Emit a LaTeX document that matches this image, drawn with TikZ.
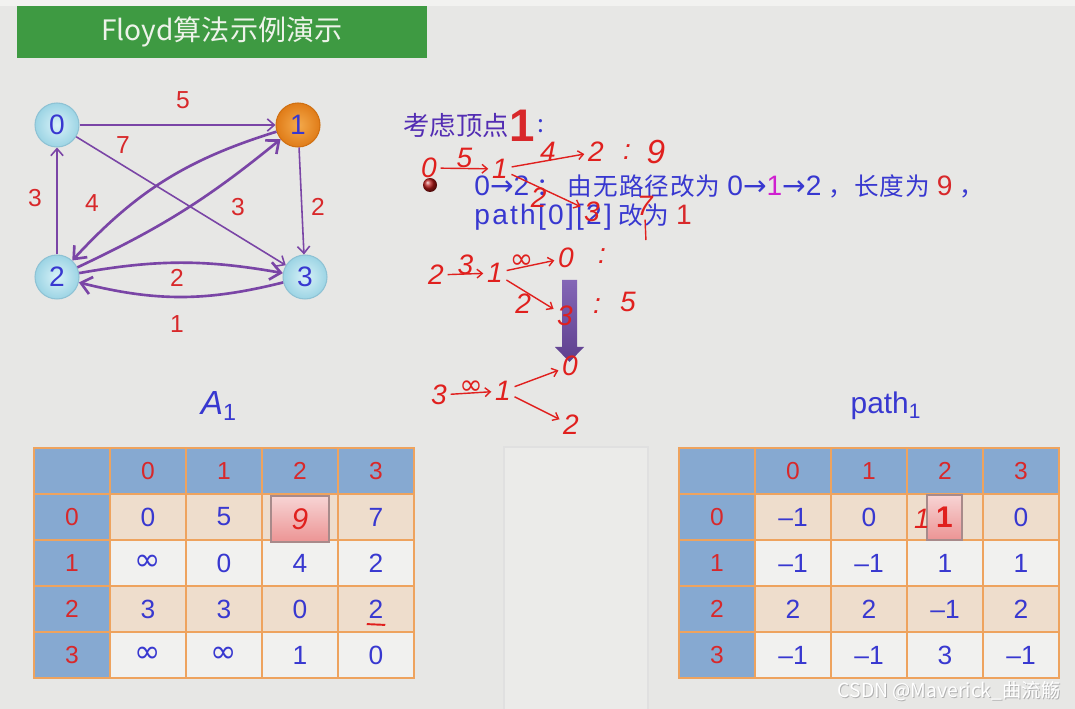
\documentclass[tikz,border=0pt]{standalone}
\usepackage{fontspec}
\setmainfont{Liberation Sans}
\newfontfamily\cjk{Noto Sans CJK SC}
\newfontfamily\cjkw{Noto Sans CJK SC}[LetterSpace=4]
\newfontfamily\latw{Liberation Sans}[LetterSpace=8]
\newfontfamily\symw{DejaVu Sans}[LetterSpace=8]
\newfontfamily\sym{DejaVu Sans}
\usetikzlibrary{arrows.meta}

\definecolor{bg}{HTML}{E7E7E5}
\definecolor{topstrip}{HTML}{F2F2F0}
\definecolor{titlegreen}{HTML}{3E9A42}
\definecolor{titletext}{HTML}{EEF3EA}
\definecolor{vtxin}{HTML}{D8F2F8}
\definecolor{vtxout}{HTML}{9CD4E4}
\definecolor{vtxline}{HTML}{8EC2D4}
\definecolor{orgin}{HTML}{F4AA4C}
\definecolor{orgout}{HTML}{E07C18}
\definecolor{orgline}{HTML}{D07012}
\definecolor{arcpurple}{HTML}{7A45A6}
\definecolor{numred}{HTML}{D8282A}
\definecolor{numblue}{HTML}{3838D0}
\definecolor{hdblue}{HTML}{86A9D1}
\definecolor{peach}{HTML}{EEDDCC}
\definecolor{lightcell}{HTML}{F1F1EF}
\definecolor{gridorange}{HTML}{EEA35E}
\definecolor{ink}{HTML}{E0201E}
\definecolor{blocktop}{HTML}{8466B6}
\definecolor{blockbot}{HTML}{5E3F8E}
\definecolor{pinktop}{HTML}{F7D4D4}
\definecolor{pinkbot}{HTML}{EC9494}
\definecolor{pinkline}{HTML}{A88A8A}
\definecolor{panel}{HTML}{EBEBE9}
\definecolor{hint}{HTML}{D020D0}

\newcommand{\infy}{{\sym ∞}}
\newcommand{\biginfy}{\raisebox{-2pt}{\sym\fontsize{18}{18}\selectfont ∞}}
\newcommand{\lat}[1]{\hspace{4pt}{\latw\fontsize{16}{16}\selectfont #1}\hspace{4pt}}
\newcommand{\rarr}{{\symw →}}

\begin{document}
\begin{tikzpicture}[x=0.02cm, y=-0.02cm,
  vtx/.style={circle, minimum size=0.88cm, inner sep=0pt, draw=vtxline, line width=0.6pt,
    inner color=vtxin, outer color=vtxout, text=numblue, font=\fontsize{16}{16}\selectfont},
  arc/.style={draw=arcpurple, line width=0.9pt, -{Straight Barb[length=4pt,width=7pt]}},
  thickarc/.style={arc, line width=1.5pt, -{Straight Barb[length=6pt,width=10pt]}},
  wt/.style={text=numred, font=\fontsize{14}{14}\selectfont},
  cell/.style={rectangle, draw=gridorange, line width=0.8pt, minimum width=1.52cm,
    minimum height=0.92cm, inner sep=0pt, text=numblue, font=\fontsize{15}{15}\selectfont},
  hd/.style={cell, fill=hdblue, text=numred, font=\fontsize{14}{14}\selectfont},
  hand/.style={text=ink, font=\fontsize{16}{16}\selectfont\itshape, inner sep=1pt},
  ink/.style={draw=ink, line width=0.8pt, -{Straight Barb[length=3pt,width=5pt]},
    shorten <=1pt, shorten >=1pt}
]
\useasboundingbox (0,0) rectangle (1075,709);
\fill[bg] (0,0) rectangle (1075,709);
\fill[topstrip] (0,0) rectangle (1075,6);

% title bar
\fill[titlegreen] (17,6) rectangle (427,58);
\node[text=titletext, font=\cjk\fontsize{16}{16}\selectfont] (title) at (222,32) {Floyd算法示例演示};

% graph
\node[vtx] (v0) at (57,125) {0};
\node[vtx, draw=orgline, inner color=orgin, outer color=orgout] (v1) at (298,125) {1};
\node[vtx] (v2) at (57,277) {2};
\node[vtx] (v3) at (305,277) {3};

\draw[arc] (v0) -- (v1);
\draw[arc] (v0) -- (v3);
\draw[arc] (v2) -- (v0);
\draw[arc] (v1) -- (v3);
\draw[thickarc] (v1) to[bend right=15] (v2);
\draw[thickarc] (v2) to[bend right=7] (v1);
\draw[thickarc] (v2) to[bend left=10] (v3);
\draw[thickarc] (v3) to[bend left=14] (v2);

\node[wt] (w01) at (183,100) {5};
\node[wt] (w03) at (123,145) {7};
\node[wt] (w20) at (35,198) {3};
\node[wt] (w12) at (92,203) {4};
\node[wt] (w21) at (238,207) {3};
\node[wt] (w13) at (318,207) {2};
\node[wt] (w23) at (177,278) {2};
\node[wt] (w32) at (177,324) {1};

% step text
\node[anchor=west, inner sep=0pt, text=numblue!80!purple, font=\cjk\fontsize{15}{15}\selectfont] (step) at (403,126) {考虑顶点};
\node[anchor=west, inner sep=0pt, text=numred, font=\fontsize{26}{26}\selectfont\bfseries] (stepk) at (step.east) {1};
\node[anchor=west, inner sep=1pt, text=numblue, font=\cjk\fontsize{14}{14}\selectfont] (stepc) at (stepk.east) {:};
\shade[ball color=ink!80!black] (430,185) circle (7);
\node[anchor=west, inner sep=0pt, text=numblue, font=\cjkw\fontsize{14}{14}\selectfont] (line1) at (467,186)
  {\lat{0\rarr 2}：\hspace{4pt}由无路径改为\lat{0\rarr{\color{hint}1}\rarr 2}，长度为\lat{\color{numred}9}，};
\node[anchor=west, inner sep=0pt, text=numblue, font=\cjkw\fontsize{14}{14}\selectfont] (line2) at (467,217)
  {\lat{path[0][2]}改为\lat{\color{numred}1}};

% big arrow
\shade[top color=blocktop, bottom color=blockbot] (562,280) -- (577,280) -- (577,347) -- (584,347)
  -- (569.5,362) -- (555,347) -- (562,347) -- cycle;

% handwritten notes
\node[hand] (p0) at (429,168) {0};
\node[hand] (p1) at (500,169) {1};
\node[hand] (p2) at (596,152) {2};
\node[hand] (p3) at (592,212) {3};
\draw[ink] (p0) -- node[hand, above=-1pt] (p01) {5} (p1);
\draw[ink] (p1) -- node[hand, above=-2pt] (p12) {4} (p2);
\draw[ink] (p1) -- node[hand, pos=0.4, below=-1pt] (p13) {2} (p3);
\node[hand] (p2c) at (627,152) {:};
\node[hand, font=\fontsize{19}{19}\selectfont\itshape] (p2d) at (656,152) {9};
\node[hand] (p3d) at (645,206) {7};
\draw[ink, -] (p3d.south) -- ++(1,24);

\node[hand] (q2) at (436,275) {2};
\node[hand] (q1) at (495,273) {1};
\node[hand] (q0) at (566,258) {0};
\node[hand] (q3) at (565,316) {3};
\draw[ink] (q2) -- node[hand, above=-2pt] (q21) {3} (q1);
\draw[ink] (q1) -- node[hand, above left=-3pt] (q10) {\infy} (q0);
\draw[ink] (q1) -- node[hand, below left=-2pt] (q13) {2} (q3);
\node[hand] (q0c) at (602,256) {:};
\node[hand] (q3c) at (597,306) {:};
\node[hand] (q3d) at (628,302) {5};

\node[hand] (r3) at (439,395) {3};
\node[hand] (r1) at (503,391) {1};
\node[hand] (r0) at (570,366) {0};
\node[hand] (r2) at (571,425) {2};
\draw[ink] (r3) -- node[hand, above=-2pt] (r31) {\infy} (r1);
\draw[ink] (r1) -- (r0);
\draw[ink] (r1) -- (r2);

% blank panel
\fill[black!12] (503,446) rectangle (649,709);
\fill[panel] (505,448) rectangle (647,709);

% table A1
\node[text=numblue, font=\fontsize{19}{19}\selectfont] (alabel) at (219,406) {\itshape A\textsubscript{\upshape 1}};
\node[hd] (acorner) at (72,471) {};
\foreach \c in {0,...,3}
  \node[hd] (ac\c) at (148+76*\c,471) {\c};
\foreach \r/\vals/\bg in {0/{0,5,,7}/peach, 1/{\biginfy,0,4,2}/lightcell,
    2/{3,3,0,2}/peach, 3/{\biginfy,\biginfy,1,0}/lightcell}{
  \node[hd] (ar\r) at (72,517+46*\r) {\r};
  \foreach \v [count=\c from 0] in \vals
    \node[cell, fill=\bg] (a\r\c) at (148+76*\c,517+46*\r) {\v};
}
\node[draw=pinkline, line width=0.6pt, top color=pinktop, bottom color=pinkbot, minimum width=1.16cm,
  minimum height=0.92cm, inner sep=0pt, text=ink, font=\fontsize{17}{17}\selectfont\itshape] (anew) at (300,519) {9};
\draw[ink, -, line width=1.1pt] (365,624) -- (387,625);

% table path1
\node[text=numblue, font=\fontsize{17}{17}\selectfont] (plabel) at (886,406) {path\textsubscript{1}};
\node[hd] (pcorner) at (717,471) {};
\foreach \c in {0,...,3}
  \node[hd] (pc\c) at (793+76*\c,471) {\c};
\foreach \r/\vals/\bg in {0/{–1,0,,0}/peach, 1/{–1,–1,1,1}/lightcell,
    2/{2,2,–1,2}/peach, 3/{–1,–1,3,–1}/lightcell}{
  \node[hd] (pr\r) at (717,517+46*\r) {\r};
  \foreach \v [count=\c from 0] in \vals
    \node[cell, fill=\bg] (t\r\c) at (793+76*\c,517+46*\r) {\v};
}
\node[draw=pinkline, line width=0.6pt, top color=pinktop, bottom color=pinkbot, minimum width=0.7cm,
  minimum height=0.9cm, inner sep=0pt, text=ink, font=\fontsize{17}{17}\selectfont\bfseries] (pnew) at (944.5,517.5) {1};
\node[hand] (pold) at (922,519) {1};

% watermark
\node[text=black!30, font=\cjk\fontsize{11}{11}\selectfont] (markshadow) at (950,692) {CSDN @Maverick\_曲流觞};
\node[text=white, font=\cjk\fontsize{11}{11}\selectfont] (mark) at (949,691) {CSDN @Maverick\_曲流觞};
\end{tikzpicture}
\end{document}
